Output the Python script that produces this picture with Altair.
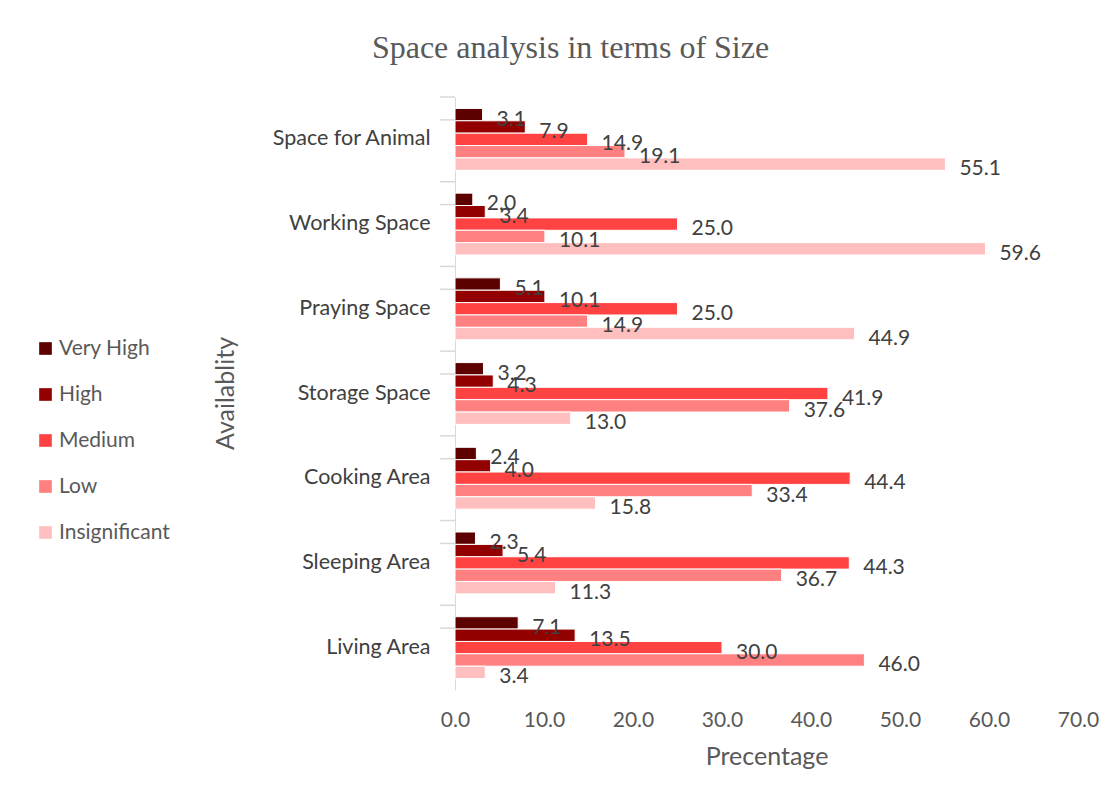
import altair as alt
import pandas as pd

categories = ["Space for Animal", "Working Space", "Praying Space", "Storage Space",
              "Cooking Area", "Sleeping Area", "Living Area"]
series = ["Very High", "High", "Medium", "Low", "Insignificant"]
very_high = [3.1, 2.0, 5.1, 3.2, 2.4, 2.3, 7.1]
high = [7.9, 3.4, 10.1, 4.3, 4.0, 5.4, 13.5]
medium = [14.9, 25.0, 25.0, 41.9, 44.4, 44.3, 30.0]
low = [19.1, 10.1, 14.9, 37.6, 33.4, 36.7, 46.0]
insignificant = [55.1, 59.6, 44.9, 13.0, 15.8, 11.3, 3.4]
colors = ["#5c0000", "#920000", "#ff4343", "#ff8080", "#ffbfbf"]
x_ticks = [0, 10, 20, 30, 40, 50, 60, 70]

values = [very_high, high, medium, low, insignificant]
rows = []
for s, vals in zip(series, values):
    for c, v in zip(categories, vals):
        rows.append({"Space": c, "Level": s, "Value": v})
df = pd.DataFrame(rows)
cat_df = pd.DataFrame({"Space": categories})

FONT = "Lato"
W, H = 623, 593
P_IN = 0.27
P_OUT = 0.135
YSCALE = alt.Scale(paddingInner=P_IN, paddingOuter=P_OUT)
STEP = H / (len(categories) - P_IN + 2 * P_OUT)
EDGE_PX = P_OUT * STEP

base = alt.Chart(df).encode(
    y=alt.Y("Space:N", sort=categories, scale=YSCALE,
            axis=alt.Axis(title="Availablity", ticks=False, domainColor="#d9d9d9",
                          labelFontSize=21.5, labelColor="#404040", labelFont=FONT,
                          labelPadding=25, titleFont=FONT, titleFontSize=25,
                          titleFontWeight="normal", titleColor="#595959",
                          titleX=-217, titleY=296)),
    yOffset=alt.YOffset("Level:N", sort=series,
                        scale=alt.Scale(domain=series, paddingInner=0, paddingOuter=0)),
)

bars = base.mark_bar(stroke="white", strokeWidth=1).encode(
    x=alt.X("Value:Q", scale=alt.Scale(domain=[0, 70]),
            axis=alt.Axis(values=x_ticks, format=".1f", domain=False, ticks=False,
                          grid=False, labelFontSize=21, labelColor="#595959",
                          labelFont=FONT, labelPadding=19, labelFlush=False,
                          title="Precentage", titleFont=FONT, titleFontSize=25,
                          titleFontWeight="normal", titleColor="#595959",
                          titlePadding=14)),
    color=alt.Color("Level:N", sort=series,
                    scale=alt.Scale(domain=series, range=colors),
                    legend=alt.Legend(title=None, orient="none", legendX=-420, legendY=241,
                                      symbolType="square", symbolSize=160,
                                      symbolStrokeWidth=0, labelFontSize=21,
                                      labelColor="#595959", labelFont=FONT,
                                      rowPadding=24, labelOffset=3)),
)

text = base.mark_text(align="left", dx=14, dy=5, fontSize=21, color="#404040",
                      font=FONT).encode(
    x=alt.X("Value:Q"),
    text=alt.Text("Value:Q", format=".1f"),
)

ticks_top = alt.Chart(cat_df).mark_rule(color="#d9d9d9", strokeWidth=1.5).encode(
    x=alt.value(-15), x2=alt.value(0),
    y=alt.Y("Space:N", sort=categories, scale=YSCALE, bandPosition=0),
    yOffset=alt.value(-EDGE_PX),
)
ticks_bottom = alt.Chart(cat_df).mark_rule(color="#d9d9d9", strokeWidth=1.5).encode(
    x=alt.value(-15), x2=alt.value(0),
    y=alt.Y("Space:N", sort=categories, scale=YSCALE, bandPosition=1),
    yOffset=alt.value(EDGE_PX),
)

chart = (bars + text + ticks_top + ticks_bottom).properties(
    width=W,
    height=H,
    title=alt.TitleParams("Space analysis in terms of Size", font="Liberation Serif",
                          fontSize=32, color="#595959", fontWeight="normal",
                          anchor="middle", dx=-196, offset=31),
    autosize=alt.AutoSizeParams(type="none"),
    padding={"left": 447, "top": 89, "right": 30, "bottom": 90},
).configure_view(stroke=None)

chart.save("out.html", embed_options={"renderer": "svg", "actions": False})
